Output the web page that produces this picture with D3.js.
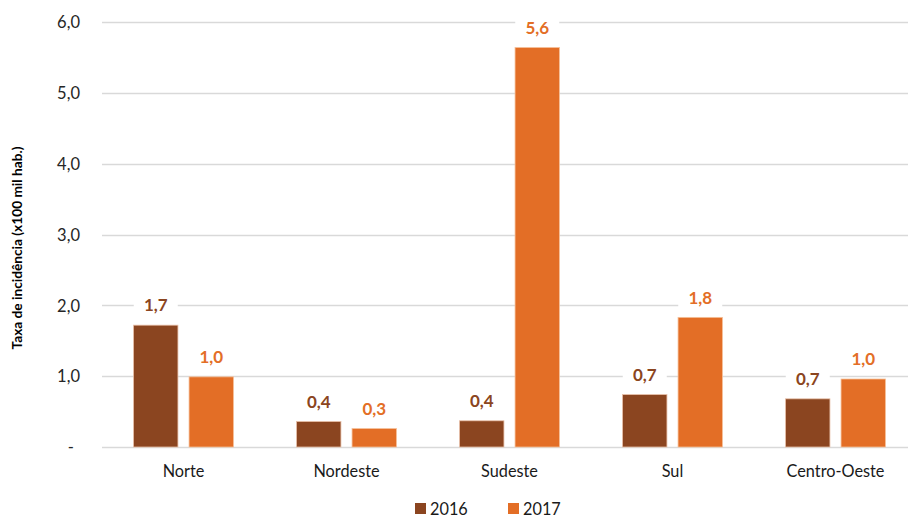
<!DOCTYPE html>
<head>
  <meta charset="utf-8">
  <script src="https://d3js.org/d3.v7.min.js"></script>
  <style>
    body { margin: 0; background: #fff; }
    svg { display: block; font-family: Lato, "Open Sans", sans-serif; }
  </style>
</head>
<body>
  <svg width="908" height="517"></svg>
  <script>
    // dados
    var regioes = ['Norte', 'Nordeste', 'Sudeste', 'Sul', 'Centro-Oeste'];
    var anos = ['2016', '2017'];
    var taxa2016 = [1.72, 0.36, 0.37, 0.74, 0.68];
    var taxa2017 = [0.99, 0.26, 5.64, 1.83, 0.96];
    var yTicks = [0, 1, 2, 3, 4, 5, 6];

    var cores = {'2016': '#8b4520', '2017': '#e36e26'};
    var bordas = {'2016': '#e8c0a8', '2017': '#f5c09a'};

    var width = 908, height = 517;
    var margin = {top: 22, bottom: 70, left: 102, right: -9};

    var series = anos.map((a, i) => ({ano: a, valores: i === 0 ? taxa2016 : taxa2017}));

    var svg = d3.select('svg');

    var x0 = d3.scaleBand()
      .domain(regioes)
      .range([margin.left, width - margin.right])
      .paddingInner(0.387)
      .paddingOuter(0.1935);

    var x1 = d3.scaleBand()
      .domain(anos)
      .range([0, x0.bandwidth()])
      .paddingInner(0.2);

    var y = d3.scaleLinear()
      .domain([0, 6])
      .range([height - margin.bottom, margin.top]);

    // linhas de grade
    svg.append('g')
      .selectAll('line')
      .data(yTicks)
      .join('line')
      .attr('x1', margin.left)
      .attr('x2', width)
      .attr('y1', d => Math.round(y(d)) + 0.5)
      .attr('y2', d => Math.round(y(d)) + 0.5)
      .attr('stroke', '#d9d9d9')
      .attr('stroke-width', 1.3);

    // eixo y
    var eixoY = d3.axisLeft(y)
      .tickValues(yTicks)
      .tickSize(0)
      .tickPadding(0)
      .tickFormat(d => d === 0 ? '-' : d3.format('.1f')(d).replace('.', ','));

    svg.append('g')
      .attr('transform', 'translate(' + [80, 0] + ')')
      .call(eixoY)
      .call(g => g.select('.domain').remove())
      .selectAll('text')
      .attr('font-size', 16.5)
      .attr('font-family', 'Lato, sans-serif')
      .attr('fill', '#262626')
      .attr('dy', '0.35em')
      .attr('dx', d => d === 0 ? -6 : 0);

    // título do eixo y
    svg.append('text')
      .attr('transform', 'translate(22,' + 248 + ') rotate(-90)')
      .attr('text-anchor', 'middle')
      .attr('font-size', 13.7)
      .attr('font-weight', 'bold')
      .attr('fill', '#000')
      .text('Taxa de incidência (x100 mil hab.)');

    // barras
    var grupos = svg.append('g')
      .selectAll('g')
      .data(series)
      .join('g');

    grupos.selectAll('rect')
      .data(s => s.valores.map((v, i) => ({ano: s.ano, regiao: regioes[i], v: v})))
      .join('rect')
      .attr('x', d => x0(d.regiao) + x1(d.ano))
      .attr('width', x1.bandwidth())
      .attr('y', d => y(d.v))
      .attr('height', d => y(0) - y(d.v))
      .attr('fill', d => cores[d.ano])
      .attr('stroke', d => bordas[d.ano])
      .attr('stroke-width', 0.8);

    // rótulos dos valores (com fundo branco sobre a grade)
    var rotulos = grupos.selectAll('g.rotulo')
      .data(s => s.valores.map((v, i) => ({ano: s.ano, regiao: regioes[i], v: v})))
      .join('g')
      .attr('class', 'rotulo')
      .attr('transform', d => 'translate(' + [x0(d.regiao) + x1(d.ano) + x1.bandwidth() / 2, y(d.v) - 20] + ')');

    rotulos.append('rect')
      .attr('x', -22).attr('y', -10).attr('width', 44).attr('height', 20)
      .attr('fill', '#fff');

    rotulos.append('text')
      .attr('text-anchor', 'middle')
      .attr('dy', '0.36em')
      .attr('font-size', 17)
      .attr('font-weight', 'bold')
      .attr('fill', d => cores[d.ano])
      .text(d => d3.format('.1f')(d.v).replace('.', ','));

    // eixo x
    var eixoX = d3.axisBottom(x0).tickSize(0).tickPadding(18);
    svg.append('g')
      .attr('transform', 'translate(' + [0, y(0)] + ')')
      .call(eixoX)
      .call(g => g.select('.domain').remove())
      .selectAll('text')
      .attr('font-size', 16.3)
      .attr('font-family', 'Lato, sans-serif')
      .attr('fill', '#1a1a1a');

    // legenda
    var legenda = svg.append('g')
      .selectAll('g')
      .data(anos)
      .join('g')
      .attr('transform', (d, i) => 'translate(' + [415 + i * 93, 503] + ')');

    legenda.append('rect')
      .attr('width', 11).attr('height', 11)
      .attr('fill', d => cores[d]);

    legenda.append('text')
      .attr('x', 15)
      .attr('y', 6)
      .attr('dy', '0.35em')
      .attr('font-size', 16.3)
      .attr('fill', '#1a1a1a')
      .text(d => d);
  </script>
</body>
